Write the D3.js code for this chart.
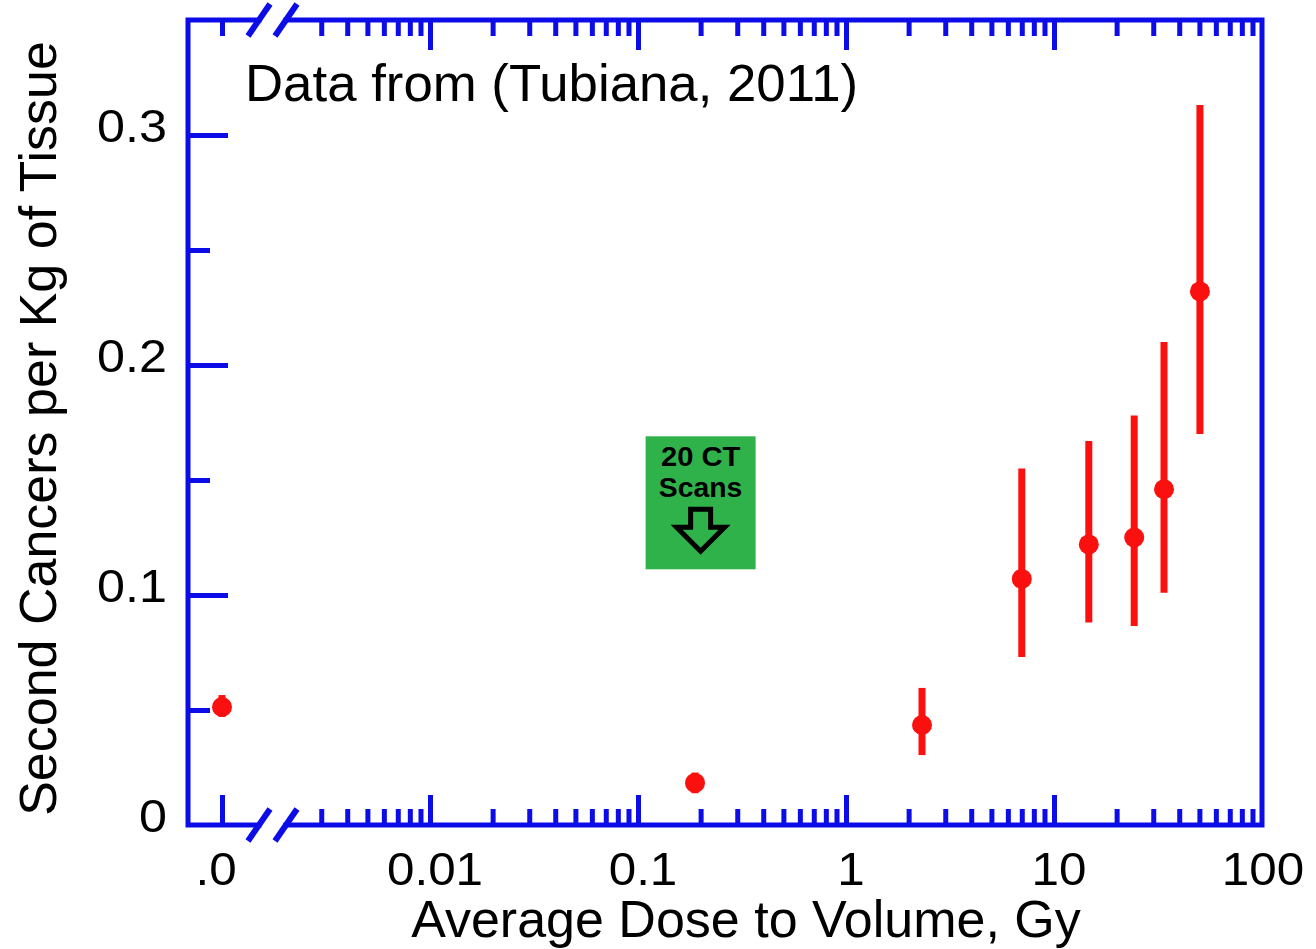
<!DOCTYPE html>
<html>
<head>
<meta charset="utf-8">
<script src="https://cdn.jsdelivr.net/npm/d3@7"></script>
<style>
  body { margin: 0; background: #fff; }
  text { font-family: "Liberation Sans", Arial, sans-serif; }
</style>
</head>
<body>
<div class="canvas"></div>
<script>
// data (dose 0 is drawn at the 0.001 slot left of the break)
const dose = [0, 0.188, 2.32, 7.0, 14.7, 24.3, 33.8, 50.3];
const cancers = [0.0513, 0.0183, 0.0435, 0.107, 0.122, 0.125, 0.146, 0.232];
const errLow = [0.047, 0.0138, 0.0304, 0.073, 0.088, 0.0865, 0.101, 0.170];
const errHigh = [0.0565, 0.0228, 0.0596, 0.155, 0.167, 0.178, 0.210, 0.313];

const xMajor = [0.001, 0.01, 0.1, 1, 10, 100];
const xLabels = [".0", "0.01", "0.1", "1", "10", "100"];
const yMajor = [0, 0.1, 0.2, 0.3];
const yLabels = ["0", "0.1", "0.2", "0.3"];
const yMinor = [0.05, 0.15, 0.25];

const zeroDose = 0.001;
const blue = "#0c0ce8";
const red = "#fb1010";

const width = 1316;
const height = 949;
const frameL = 188, frameR = 1262, frameT = 20, frameB = 825;

const svg = d3
  .select(".canvas")
  .append("svg")
  .attr("width", width)
  .attr("height", height);

// scales
const x = d3.scaleLog().domain([0.001, 100]).range([222, frameR]);
const y = d3.scaleLinear().domain([0, 0.35]).range([frameB, frameT]);
const xPos = (d) => x(d === 0 ? zeroDose : d);

// axis break
const breakA = 259, breakB = 286;
const xMinor = x.ticks()
  .filter((d) => xMajor.indexOf(d) < 0 && d < 100)
  .filter((d) => x(d) < breakA - 12 || x(d) > breakB + 12);

// ticks point inward from the frame
const tickStyle = (g) => {
  g.select(".domain").remove();
  g.selectAll("line").attr("stroke", blue).attr("stroke-width", 5);
};

svg.append("g")
  .attr("transform", `translate(0,${frameB})`)
  .call(d3.axisBottom(x).tickValues(xMinor).tickSize(-16).tickFormat(""))
  .call(tickStyle);
svg.append("g")
  .attr("transform", `translate(0,${frameB})`)
  .call(d3.axisBottom(x).tickValues(xMajor.slice(0, 5)).tickSize(-30).tickFormat(""))
  .call(tickStyle);
svg.append("g")
  .attr("transform", `translate(0,${frameT})`)
  .call(d3.axisTop(x).tickValues(xMinor.concat([0.001])).tickSize(-16).tickFormat(""))
  .call(tickStyle);
svg.append("g")
  .attr("transform", `translate(0,${frameT})`)
  .call(d3.axisTop(x).tickValues(xMajor.slice(1, 5)).tickSize(-30).tickFormat(""))
  .call(tickStyle);

// y ticks, left side only
svg.append("g")
  .attr("transform", `translate(${frameL},0)`)
  .call(d3.axisLeft(y).tickValues(yMajor.slice(1)).tickSize(-40).tickFormat(""))
  .call(tickStyle);
svg.append("g")
  .attr("transform", `translate(${frameL},0)`)
  .call(d3.axisLeft(y).tickValues(yMinor).tickSize(-22).tickFormat(""))
  .call(tickStyle);

// frame with gaps at the break
const frame = svg.append("g")
  .attr("stroke", blue)
  .attr("stroke-width", 5)
  .attr("fill", "none")
  .attr("stroke-linecap", "square");
frame.append("path").attr("d", `M${breakA},${frameT}H${frameL}V${frameB}H${breakA}`);
frame.append("path").attr("d", `M${breakB},${frameT}H${frameR}V${frameB}H${breakB}`);

// break slashes
[frameT, frameB].forEach((yy) => {
  [breakA, breakB].forEach((xx) => {
    svg.append("line")
      .attr("x1", xx + 11).attr("y1", yy - 16)
      .attr("x2", xx - 11).attr("y2", yy + 16)
      .attr("stroke", blue)
      .attr("stroke-width", 6);
  });
});

// tick labels (the source font is a little wider than Liberation Sans)
svg.append("g")
  .selectAll("text")
  .data(xMajor)
  .enter()
  .append("text")
  .attr("transform", (d, i) =>
    `translate(${x(d) + (i === 0 ? -6 : i === 5 ? 1 : 5)},885) scale(1.05,1)`)
  .attr("text-anchor", "middle")
  .attr("font-size", 47)
  .attr("fill", "#000")
  .text((d, i) => xLabels[i]);

svg.append("g")
  .selectAll("text")
  .data(yMajor)
  .enter()
  .append("text")
  .attr("transform", (d) => `translate(${frameL - 21},${y(d) + 7}) scale(1.07,1)`)
  .attr("text-anchor", "end")
  .attr("font-size", 47)
  .attr("fill", "#000")
  .text((d, i) => yLabels[i]);

// axis titles
svg.append("text")
  .attr("x", 746)
  .attr("y", 937)
  .attr("text-anchor", "middle")
  .attr("font-size", 52)
  .text("Average Dose to Volume, Gy");

svg.append("text")
  .attr("transform", `translate(56,${(frameT + frameB) / 2 + 6}) rotate(-90)`)
  .attr("text-anchor", "middle")
  .attr("font-size", 52)
  .text("Second Cancers per Kg of Tissue");

svg.append("text")
  .attr("transform", "translate(245,101) scale(1.035,1)")
  .attr("font-size", 51)
  .text("Data from (Tubiana, 2011)");

// CT scan note
const noteX = x(0.2);
const noteY = y(0.169);
const note = svg.append("g").attr("transform", `translate(${noteX},${noteY})`);
note.append("rect")
  .attr("x", -55).attr("y", 0)
  .attr("width", 110).attr("height", 133)
  .attr("fill", "#30b24b");
note.append("text")
  .attr("transform", "translate(0,30) scale(1.08,1)")
  .attr("text-anchor", "middle")
  .attr("font-size", 27)
  .attr("font-weight", "bold")
  .text("20 CT");
note.append("text")
  .attr("transform", "translate(0,61) scale(1.05,1)")
  .attr("text-anchor", "middle")
  .attr("font-size", 27)
  .attr("font-weight", "bold")
  .text("Scans");
note.append("path")
  .attr("d", "M-10,73H10V91H24L0,115L-24,91H-10Z")
  .attr("fill", "none")
  .attr("stroke", "#000")
  .attr("stroke-width", 5);

// error bars
svg.append("g")
  .selectAll("line")
  .data(dose)
  .enter()
  .append("line")
  .attr("x1", (d) => xPos(d))
  .attr("x2", (d) => xPos(d))
  .attr("y1", (d, i) => y(errLow[i]))
  .attr("y2", (d, i) => y(errHigh[i]))
  .attr("stroke", red)
  .attr("stroke-width", 7);

// points
svg.append("g")
  .selectAll("circle")
  .data(dose)
  .enter()
  .append("circle")
  .attr("cx", (d) => xPos(d))
  .attr("cy", (d, i) => y(cancers[i]))
  .attr("r", 10)
  .attr("fill", red);
</script>
</body>
</html>
